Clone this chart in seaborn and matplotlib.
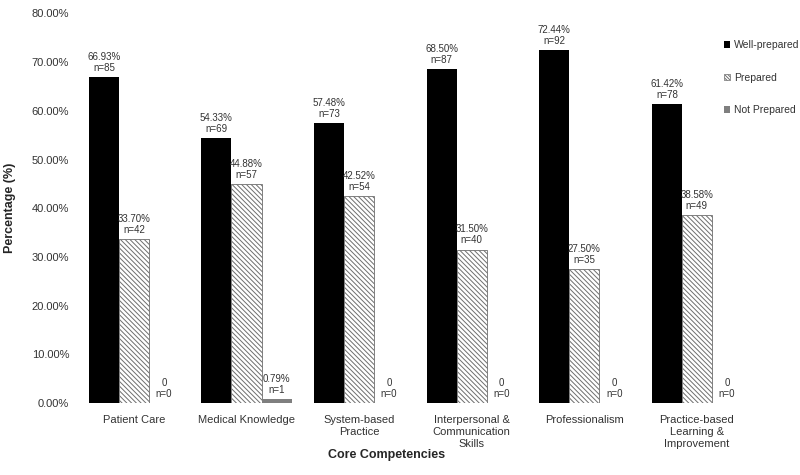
import matplotlib
matplotlib.use("Agg")
import matplotlib.pyplot as plt
import seaborn as sns
import pandas as pd
from matplotlib.patches import Patch

categories = ["Patient Care", "Medical Knowledge", "System-based\nPractice",
              "Interpersonal &\nCommunication\nSkills", "Professionalism",
              "Practice-based\nLearning &\nImprovement"]
series = ["Well-prepared", "Prepared", "Not Prepared"]
well_pct = [66.93, 54.33, 57.48, 68.50, 72.44, 61.42]
well_n = [85, 69, 73, 87, 92, 78]
prep_pct = [33.70, 44.88, 42.52, 31.50, 27.50, 38.58]
prep_n = [42, 57, 54, 40, 35, 49]
notp_pct = [0, 0.79, 0, 0, 0, 0]
notp_n = [0, 1, 0, 0, 0, 0]
yticks = [0, 10, 20, 30, 40, 50, 60, 70, 80]

sns.set_theme(style="white")
plt.rcParams['font.family'] = ['Liberation Sans', 'DejaVu Sans']
plt.rcParams['hatch.linewidth'] = 0.7

HATCH = "\\" * 7

rows = []
for s, pcts in zip(series, [well_pct, prep_pct, notp_pct]):
    for c, p in zip(categories, pcts):
        rows.append({"Category": c, "Series": s, "Pct": p})
df = pd.DataFrame(rows)

fig = plt.figure(figsize=(8, 4.75), dpi=100)
ax = fig.add_axes([0.097, 0.1516, 0.8445, 0.82])

palette = {"Well-prepared": "#000000", "Prepared": "#ffffff", "Not Prepared": "#7f7f7f"}
sns.barplot(data=df, x="Category", y="Pct", hue="Series", hue_order=series,
            order=categories, palette=palette, width=0.8, ax=ax,
            edgecolor="none", linewidth=0, legend=False, saturation=1)

conts = ax.containers
for p in conts[1]:
    p.set_edgecolor("#6e6e6e")
    p.set_hatch(HATCH)
    p.set_linewidth(0.6)

def fmt(p, n):
    if p == 0:
        return f"0\nn={n}"
    return f"{p:.2f}%\nn={n}"

for cont, pcts, ns in zip(conts, [well_pct, prep_pct, notp_pct], [well_n, prep_n, notp_n]):
    labels = [fmt(p, n) for p, n in zip(pcts, ns)]
    ax.bar_label(cont, labels=labels, padding=3, fontsize=7, color="#333333",
                 linespacing=1.15)

ax.set_ylim(0, 80)
ax.set_yticks(yticks)
ax.set_yticklabels([f"{v:.2f}%" for v in yticks], fontsize=8, color="#333333")
ax.tick_params(axis='x', labelsize=8, colors="#333333", length=0, pad=9)
ax.tick_params(axis='y', length=0, pad=6)
ax.set_xlim(-0.5, 5.5)
for side in ["top", "right", "left", "bottom"]:
    ax.spines[side].set_visible(False)

ax.set_ylabel("Percentage (%)", fontsize=9, fontweight="bold")
ax.yaxis.set_label_coords(-0.091, 0.5)
ax.set_xlabel("Core Competencies", fontsize=9, fontweight="bold")
ax.xaxis.set_label_coords(0.458, -0.1335)
ax.xaxis.label.set_va("center")

handles = [Patch(facecolor="#000000", edgecolor="none"),
           Patch(facecolor="#ffffff", edgecolor="#6e6e6e", hatch="\\" * 10, linewidth=0.5),
           Patch(facecolor="#7f7f7f", edgecolor="none")]
fig.legend(handles, series, loc="upper left", bbox_to_anchor=(0.893, 0.935),
           frameon=False, fontsize=7.5, handlelength=0.6, handleheight=0.6,
           handletextpad=0.35, labelspacing=2.15, labelcolor="#333333")

fig.savefig("out.png", dpi=100)
